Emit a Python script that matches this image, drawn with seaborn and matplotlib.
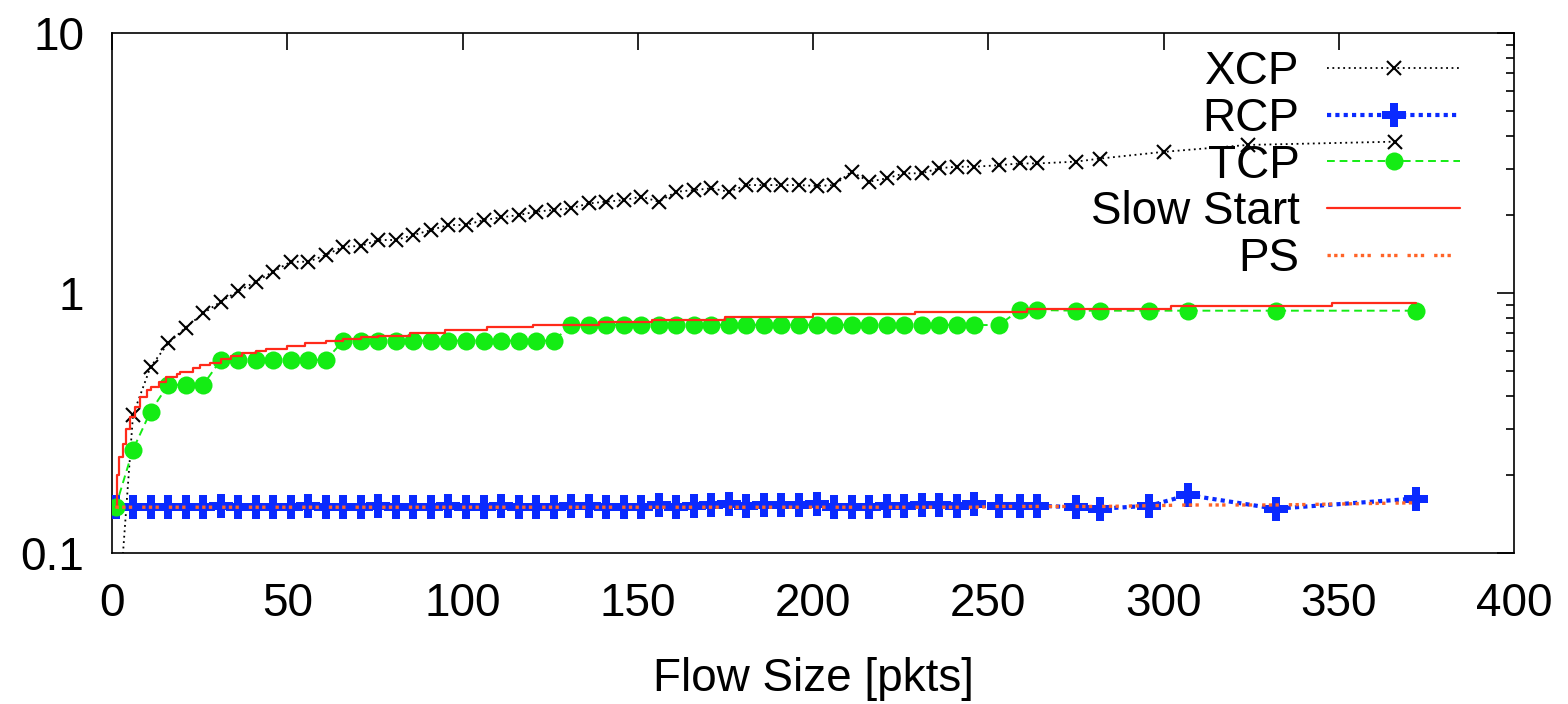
import matplotlib
matplotlib.use('Agg')
import matplotlib.pyplot as plt
import seaborn as sns
from matplotlib.ticker import LogLocator, NullFormatter

sns.set_style('white')
plt.rcParams['font.family'] = ['Liberation Sans', 'DejaVu Sans']
plt.rcParams['text.color'] = 'black'
plt.rcParams['axes.labelcolor'] = 'black'
plt.rcParams['xtick.color'] = 'black'
plt.rcParams['ytick.color'] = 'black'

# flow sizes (pkts) used by TCP, RCP and PS
flow_sizes = [1, 6, 11, 16, 21, 26, 31, 36, 41, 46,
              51, 56, 61, 66, 71, 76, 81, 86, 91, 96,
              101, 106, 111, 116, 121, 126, 131, 136, 141, 146,
              151, 156, 161, 166, 171, 176, 181, 186, 191, 196,
              201, 206, 211, 216, 221, 226, 231, 236, 241, 246,
              253, 259, 264, 275, 282, 296, 307, 332, 372]

# XCP run has a slightly different tail
xcp_sizes = [1, 6, 11, 16, 21, 26, 31, 36, 41, 46,
             51, 56, 61, 66, 71, 76, 81, 86, 91, 96,
             101, 106, 111, 116, 121, 126, 131, 136, 141, 146,
             151, 156, 161, 166, 171, 176, 181, 186, 191, 196,
             201, 206, 211, 216, 221, 226, 231, 236, 241, 246,
             253, 259, 264, 275, 282, 300, 324, 366]

xcp_fct = [0.04, 0.34, 0.52, 0.64, 0.736, 0.835, 0.926, 1.018, 1.105, 1.208,
           1.319, 1.319, 1.40, 1.507, 1.516, 1.599, 1.599, 1.671, 1.747, 1.826,
           1.826, 1.908, 1.954, 1.995, 2.055, 2.087, 2.117, 2.211, 2.245, 2.277,
           2.346, 2.245, 2.451, 2.488, 2.527, 2.451, 2.601, 2.601, 2.601, 2.601,
           2.580, 2.601, 2.928, 2.680, 2.76, 2.886, 2.886, 3.02, 3.06, 3.06,
           3.10, 3.15, 3.15, 3.20, 3.29, 3.49, 3.71, 3.82]

rcp_fct = [0.150, 0.150, 0.150, 0.150, 0.150, 0.150, 0.151, 0.150, 0.150, 0.150,
           0.150, 0.151, 0.150, 0.150, 0.150, 0.151, 0.150, 0.150, 0.150, 0.151,
           0.150, 0.150, 0.151, 0.150, 0.150, 0.150, 0.151, 0.152, 0.150, 0.150,
           0.150, 0.153, 0.150, 0.152, 0.153, 0.154, 0.152, 0.153, 0.153, 0.153,
           0.154, 0.150, 0.150, 0.150, 0.152, 0.152, 0.153, 0.153, 0.152, 0.154,
           0.152, 0.152, 0.152, 0.150, 0.148, 0.152, 0.167, 0.148, 0.162]

tcp_fct = [0.150, 0.250, 0.350, 0.443, 0.443, 0.443, 0.552, 0.552, 0.552, 0.552,
           0.552, 0.552, 0.552, 0.655, 0.655, 0.655, 0.655, 0.655, 0.655, 0.655,
           0.655, 0.655, 0.655, 0.655, 0.655, 0.655, 0.753, 0.753, 0.753, 0.753,
           0.753, 0.753, 0.753, 0.753, 0.753, 0.753, 0.753, 0.753, 0.753, 0.753,
           0.753, 0.753, 0.753, 0.753, 0.753, 0.753, 0.753, 0.753, 0.753, 0.753,
           0.753, 0.860, 0.860, 0.855, 0.855, 0.855, 0.855, 0.855, 0.855]

ps_fct = [0.150] * 50 + [0.151, 0.151, 0.151, 0.151, 0.151, 0.152, 0.153, 0.153, 0.156]

# slow start model: step breakpoints
ss_sizes = [1, 1.5, 2, 3, 4, 5, 6.5, 8, 10, 11, 13.5, 15.5, 18.5, 19.5, 23, 25,
            28, 31, 34, 37, 41, 44, 50, 55, 61, 66, 71, 76, 85, 95,
            107, 120, 139, 154, 175, 200, 229, 261, 302, 348, 372]
ss_fct = [0.150, 0.200, 0.235, 0.262, 0.300, 0.334, 0.365, 0.399, 0.424, 0.436,
          0.456, 0.476, 0.487, 0.498, 0.513, 0.528, 0.540, 0.556, 0.572, 0.586,
          0.598, 0.609, 0.627, 0.642, 0.655, 0.668, 0.679, 0.686, 0.704, 0.721,
          0.738, 0.752, 0.776, 0.787, 0.806, 0.830, 0.847, 0.868, 0.894, 0.918,
          0.918]

W, H = 1568, 704
fig = plt.figure(figsize=(W / 100, H / 100), dpi=100)
ax = fig.add_axes([112 / W, 1 - 553 / H, (1514 - 112) / W, (553 - 33) / H])

sns.lineplot(x=xcp_sizes, y=xcp_fct, ax=ax, label='XCP', color='black',
             linestyle=(0, (1, 2)), linewidth=1.3, marker='x', markersize=10,
             markeredgewidth=1.5, markeredgecolor='black', zorder=3)
sns.lineplot(x=flow_sizes, y=rcp_fct, ax=ax, label='RCP', color='#0a2aff',
             linestyle=(0, (1, 1)), linewidth=3, marker='P', markersize=17,
             markeredgewidth=0, markeredgecolor='#0a2aff', zorder=4)
sns.lineplot(x=flow_sizes, y=tcp_fct, ax=ax, label='TCP', color='#14ec14',
             linestyle=(0, (4, 2.5)), linewidth=1.4, marker='o', markersize=13,
             markeredgewidth=0, markeredgecolor='#14ec14', zorder=5)
sns.lineplot(x=ss_sizes, y=ss_fct, ax=ax, label='Slow Start', color='#ff2a1a',
             linewidth=1.6, drawstyle='steps-post', zorder=6)
sns.lineplot(x=flow_sizes, y=ps_fct, ax=ax, label='PS', color='#ff6428',
             linestyle=(0, (1, 1, 1, 1, 1, 3)), linewidth=2.4, zorder=7)

ax.set_yscale('log')
ax.set_xlim(0, 400)
ax.set_ylim(0.1, 10)
ax.set_xticks([0, 50, 100, 150, 200, 250, 300, 350, 400])
ax.set_yticks([0.1, 1, 10])
ax.set_yticklabels(['0.1', '1', '10'])
ax.yaxis.set_minor_locator(LogLocator(base=10, subs=range(2, 10)))
ax.yaxis.set_minor_formatter(NullFormatter())

ax.tick_params(which='both', direction='in', top=True, right=True,
               color='black', width=1.2)
ax.tick_params(which='major', length=12, labelsize=33)
ax.tick_params(which='minor', length=6)
ax.tick_params(axis='x', pad=21)
ax.tick_params(axis='y', pad=20)
for sp in ax.spines.values():
    sp.set_color('black')
    sp.set_linewidth(1.2)

ax.set_xlabel('Flow Size [pkts]', fontsize=33, labelpad=22)
ax.set_ylabel('')

ax.legend(loc='upper right', bbox_to_anchor=(1460 / W, 1 - 50 / H),
          bbox_transform=fig.transFigure, frameon=False, markerfirst=False,
          alignment='right', fontsize=33, handlelength=2.9, handletextpad=0.6,
          labelspacing=0.06, borderpad=0, borderaxespad=0)

fig.savefig('out.png', dpi=100)
